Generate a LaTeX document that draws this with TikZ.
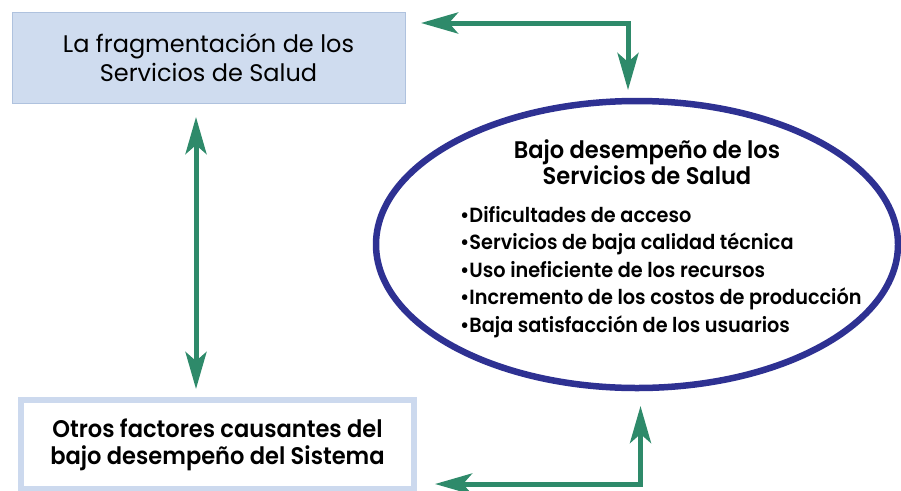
\documentclass[tikz,border=0pt]{standalone}
\usepackage{fontspec}
\setmainfont{Poppins}
\newfontfamily\heavyfont{Poppins}[UprightFont={* SemiBold}, FakeStretch=0.94]
\usetikzlibrary{calc,arrows.meta,shapes.geometric}
\definecolor{linkgreen}{HTML}{2E8A6A}
\definecolor{ovalblue}{HTML}{2E3192}
\definecolor{fragfill}{HTML}{CFDCEF}
\definecolor{fragline}{HTML}{AFC2DE}
\definecolor{otrosline}{HTML}{CCD9EE}

\begin{document}
\begin{tikzpicture}[x=1pt,y=-1pt,
  box/.style={rectangle, inner sep=0pt, outer sep=0pt, align=center},
  link/.style={draw=linkgreen, line width=5pt,
    >={Stealth[length=37pt,width=21pt,inset=9pt]}, <->}]
  \useasboundingbox (0,0) rectangle (901,490);

  \node
  [box, fill=fragfill, draw=fragline, line width=1pt,
   minimum width=393, minimum height=91,
   font=\fontsize{24}{29}\selectfont]
  (frag) at (208.5,57.5) {La fragmentación de los\\Servicios de Salud};

  \node
  [box, draw=otrosline, line width=6pt,
   minimum width=393, minimum height=89,
   font=\fontsize{24}{27}\heavyfont]
  (otros) at (217.5,444.5) {Otros factores causantes del\\bajo desempeño del Sistema};

  \node
  [ellipse, draw=ovalblue, line width=6.5pt, inner sep=0pt, outer sep=0pt,
   minimum width=522, minimum height=287]
  (bajo) at (637,244.5) {};

  \node
  [align=center, inner sep=0pt,
   font=\fontsize{24}{26.5}\heavyfont]
  (bajotitle) at (647,162) {Bajo desempeño de los\\Servicios de Salud};

  \node
  [align=left, inner sep=0pt, anchor=west,
   font=\fontsize{20.5}{27.5}\heavyfont]
  (bajolist) at (460,272) {•Dificultades de acceso\\
    •Servicios de baja calidad técnica\\
    •Uso ineficiente de los recursos\\
    •Incremento de los costos de producción\\
    •Baja satisfacción de los usuarios};

  % green links
  \draw
  [link]
  ($(frag.north east)+(16,11)$) -| ($(bajo.north)+(-9,-11)$);

  \draw
  [link]
  ($(frag.south)+(-12.5,14)$) -- ($(otros.north)+(-21.5,-11)$);

  \draw
  [link]
  ($(bajo.south)+(3.5,18)$) |- ($(otros.south east)+(21,-5)$);
\end{tikzpicture}
\end{document}
